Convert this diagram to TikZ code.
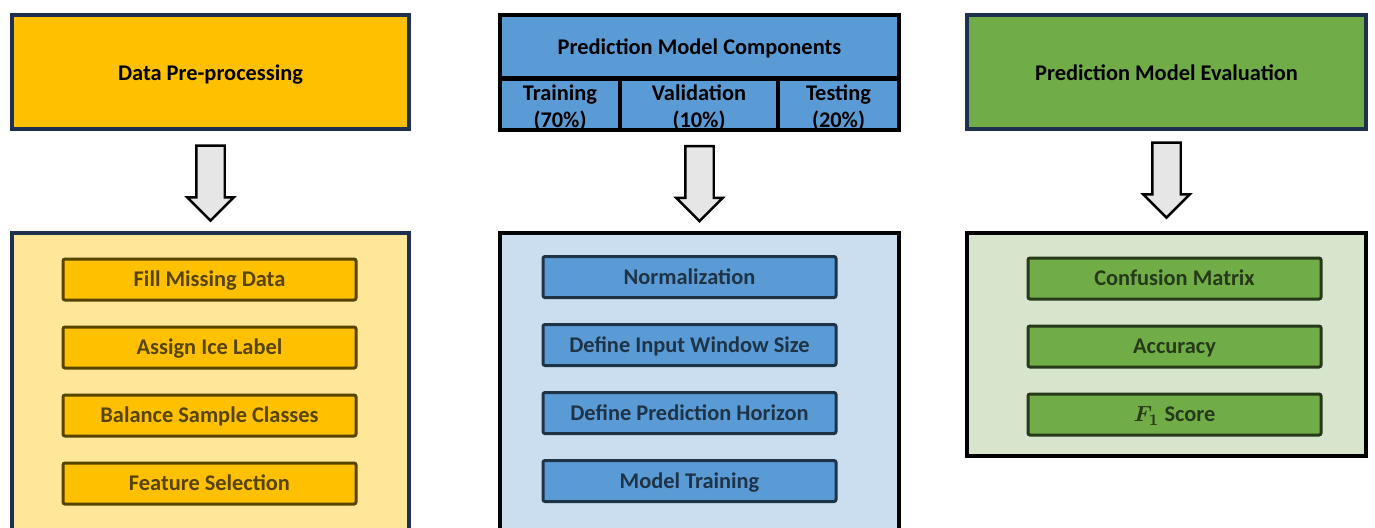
\documentclass[tikz,border=0pt]{standalone}
\usepackage{amsmath}
\usepackage{fontspec}
\setmainfont{Carlito}
\usetikzlibrary{shapes.arrows}
\usetikzlibrary{calc}
\usetikzlibrary{positioning}

\definecolor{navy}{HTML}{1F2F4F}
\definecolor{gold}{HTML}{FFC000}
\definecolor{paleyellow}{HTML}{FFE699}
\definecolor{olivebrown}{HTML}{574400}
\definecolor{skyblue}{HTML}{5B9BD5}
\definecolor{paleblue}{HTML}{CADEF0}
\definecolor{slate}{HTML}{1F3346}
\definecolor{leafgreen}{HTML}{70AD47}
\definecolor{palegreen}{HTML}{D6E5CC}
\definecolor{forest}{HTML}{26391A}
\definecolor{arrowgray}{HTML}{E6E6E6}

\begin{document}
\begin{tikzpicture}[x=0.5pt, y=-0.5pt, node distance=12pt,
        every node/.style={text centered,
          inner sep=0pt,
          font=\bfseries\fontsize{11.2}{13.5}\selectfont,
      },
      bigbox/.style={draw, line width=2pt, text height=10.2pt, text depth=2pt},
      splitbox/.style={bigbox, fill=skyblue, minimum height=25.5pt, align=center,
          text height=23pt, text depth=0.5pt},
      stepbox/.style={draw, line width=1.5pt, rounded corners=1pt,
          minimum width=146.5pt, minimum height=20.5pt,
          text height=9.4pt, text depth=2pt},
      prepstep/.style={stepbox, draw=olivebrown, fill=gold, text=olivebrown},
      compstep/.style={stepbox, draw=slate, fill=skyblue, text=slate},
      evalstep/.style={stepbox, draw=forest, fill=leafgreen, text=forest},
      flowarrow/.style={single arrow, draw=black, fill=arrowgray, line width=1.2pt,
          rotate=-90, minimum height=37.5pt, inner xsep=0pt, inner ysep=6.5pt,
          text height={}, text depth={}, single arrow head extend=4.5pt},
      ]
      \useasboundingbox (0,0) rectangle (1375,527);

      % headers
      \node[bigbox, draw=navy, fill=gold, minimum width=198.5pt, minimum height=57pt] (prep) at (210.5,72) {Data Pre-processing};
      \node[bigbox, fill=skyblue, minimum width=199.5pt, minimum height=31.5pt] (comp) at (699.5,46.5) {Prediction Model Components};
      \node[splitbox, minimum width=60pt] (train) at (560,104.5) {Training\\(70\%)};
      \node[splitbox, minimum width=79pt] (valid) at (699,104.5) {Validation\\(10\%)};
      \node[splitbox, minimum width=60.5pt] (test) at (838.5,104.5) {Testing\\(20\%)};
      \node[bigbox, draw=navy, fill=leafgreen, minimum width=199.5pt, minimum height=57pt] (eval) at (1166.5,72) {Prediction Model Evaluation};

      % panels
      \node[bigbox, draw=navy, fill=paleyellow, minimum width=198.5pt, minimum height=163.5pt] (prepbg) at (210.5,396.5) {};
      \node[bigbox, fill=paleblue, minimum width=199.5pt, minimum height=163.5pt] (compbg) at (699.5,396.5) {};
      \node[bigbox, fill=palegreen, minimum width=199.5pt, minimum height=111.5pt] (evalbg) at (1166.5,344.5) {};

      \node[prepstep] (fill) at (209.5,279.5) {Fill Missing Data};
      \node[prepstep, below=of fill] (ice) {Assign Ice Label};
      \node[prepstep, below=of ice] (balance) {Balance Sample Classes};
      \node[prepstep, below=of balance] (select) {Feature Selection};

      \node[compstep] (norm) at (689.5,277) {Normalization};
      \node[compstep, below=of norm] (window) {Define Input Window Size};
      \node[compstep, below=of window] (horizon) {Define Prediction Horizon};
      \node[compstep, below=of horizon] (training) {Model Training};

      \node[evalstep] (confusion) at (1174.5,278.5) {Confusion Matrix};
      \node[evalstep, below=of confusion] (accuracy) {Accuracy};
      \node[evalstep, below=of accuracy] (fscore) {{\boldmath$F_1$} Score};

      % arrows
      \node[flowarrow] (prepflow) at ($(prep.south)!0.5!(prepbg.north)+(0,-5)$) {};
      \node[flowarrow] (compflow) at ($(comp.south |- train.south)!0.5!(compbg.north)+(0,-5)$) {};
      \node[flowarrow] (evalflow) at ($(eval.south)!0.5!(evalbg.north)+(0,-8)$) {};
    \end{tikzpicture}
\end{document}
